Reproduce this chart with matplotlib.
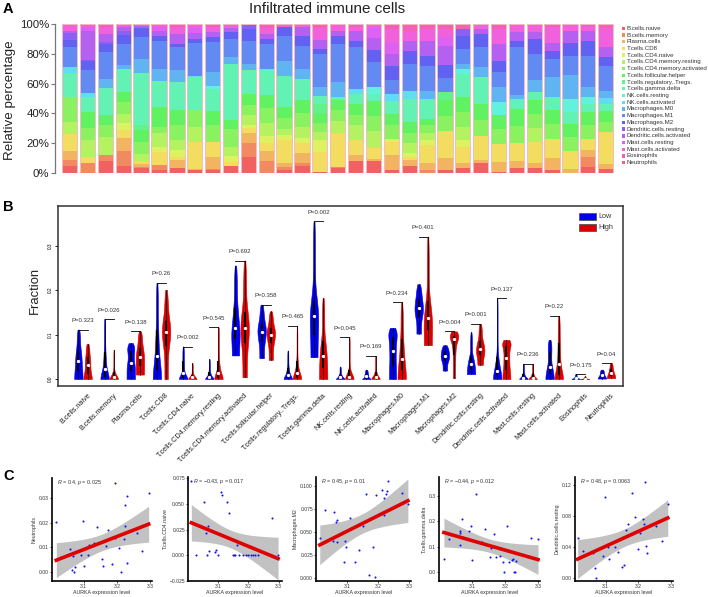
import numpy as np
import matplotlib
matplotlib.use('Agg')
import matplotlib.pyplot as plt
import matplotlib.transforms as mtransforms
from matplotlib.patches import Rectangle
import colorsys

plt.rcParams['font.family'] = ['Liberation Sans', 'DejaVu Sans']
plt.rcParams['mathtext.fontset'] = 'custom'
plt.rcParams['mathtext.it'] = 'Liberation Sans:italic'
plt.rcParams['mathtext.rm'] = 'Liberation Sans'

# ---------------- Panel A data (percent per sample) ----------------
cell_types = ['B.cells.naive', 'B.cells.memory', 'Plasma.cells', 'T.cells.CD8',
              'T.cells.CD4.naive', 'T.cells.CD4.memory.resting',
              'T.cells.CD4.memory.activated', 'T.cells.follicular.helper',
              'T.cells.regulatory..Tregs.', 'T.cells.gamma.delta',
              'NK.cells.resting', 'NK.cells.activated', 'Macrophages.M0',
              'Macrophages.M1', 'Macrophages.M2', 'Dendritic.cells.resting',
              'Dendritic.cells.activated', 'Mast.cells.resting',
              'Mast.cells.activated', 'Eosinophils', 'Neutrophils']

B_naive = [5, 0, 7.8, 5, 3.3, 2, 3.3, 1.8, 2, 4.5, 11, 0, 2, 4.5, 1, 3.3, 7.8, 7.8, 2, 5,
           0, 2.2, 3.3, 6.7, 1, 3.3, 3.3, 2.2, 0, 4, 3]
B_memory = [4, 7, 4.5, 10.5, 1, 3.3, 0, 0, 1, 0, 9, 8, 2.2, 2.2, 0, 1, 0, 0, 0, 0,
            2, 0, 0, 0, 0, 0, 0, 0, 0, 6.7, 0]
Plasma = [5.5, 0, 0, 8.5, 1.5, 0, 5.6, 1, 7.8, 0, 6.7, 6.7, 2.2, 6.7, 0, 0, 4.5, 1.5, 10, 3.8,
          4.7, 7.8, 3.3, 2.2, 6.7, 4.5, 3.3, 7.8, 3, 4.5, 3.3]
CD8 = [11.5, 4, 0, 6, 2.2, 9, 2.2, 18, 10, 3, 3.3, 5.6, 15.6, 6.7, 13.4, 22, 10, 7.4, 9, 2.2,
       12, 18, 11, 15.6, 12, 12, 14.5, 13, 12, 8, 21]
CD4_naive = [0, 0, 0, 4.5, 0, 3.3, 4.5, 0, 0, 4, 2.2, 4.5, 3.3, 3.3, 7.8, 0, 0, 0, 2.2, 2.2,
             3.3, 0, 4.5, 0, 0, 0, 0, 0, 0, 0, 0]
CD4_mem_rest = [8, 11, 12, 6.7, 5, 9, 6.7, 10, 0, 6, 6.7, 9, 4.5, 7.8, 5.6, 8, 10, 12, 0, 7,
                5, 0, 9, 0, 0, 0, 9, 0, 0, 0, 0]
CD4_mem_act = [17, 8, 8, 8, 8, 4.5, 10, 11, 11, 12, 7, 10, 7, 9, 6, 7.6, 7, 10, 9, 7,
               5, 10, 10, 11, 9.5, 11.5, 9.5, 9.5, 9, 9, 7]
Tfh = [0, 11, 7, 7, 8, 13, 10, 0, 10, 6, 7.5, 9, 7.5, 9, 6, 6.7, 7.5, 10, 7.7, 7,
       4.5, 11, 10, 11, 9.5, 11.5, 9.5, 9.5, 9, 9, 7.5]
Tregs = [0, 0, 0, 0, 3, 0, 0, 0, 0, 0, 0, 0, 0, 0, 6.7, 0, 0, 0, 0, 0,
         0, 5.6, 0, 0, 0, 0, 0, 0, 0, 0, 0]
Gamma_delta = [16, 10, 17.9, 16, 35, 18, 19, 22, 14.5, 38, 15.6, 18, 21, 14.5, 5.6, 2.2, 6.7, 4.5, 9, 15.6,
               13, 0, 15.6, 18, 0, 6.7, 5.6, 9, 8, 5.6, 4.5]
NK_rest = [0, 0, 0, 0, 0, 0, 0, 0, 2.2, 0, 0, 0, 0, 0, 0, 0, 0, 5, 0, 0,
           0, 0, 3.3, 0, 9, 0, 0, 0, 9, 4.5, 0]
NK_act = [4, 3, 0, 0, 0, 0, 0, 1, 0, 0, 0, 0, 0, 0, 0, 0, 3.3, 0, 4.5, 5.6,
          0, 0, 0, 0, 0, 0, 0, 0, 0, 0, 4.5]
M0 = [0, 0, 6.7, 3, 9, 8, 8, 0, 9, 5, 4.5, 0, 10, 6.7, 6, 10, 0, 0, 0, 0,
      5.6, 0, 3.3, 6.7, 10, 2.2, 7.8, 13, 16, 6.7, 4.5]
M1 = [13.4, 15.6, 17.9, 14.5, 15, 19, 15.6, 22, 20, 12, 15.6, 16.7, 16.7, 15.6, 22, 25, 28, 17, 9, 18,
      16.7, 9, 10, 13, 10, 32, 18, 12, 13, 21, 17]
M2 = [5, 5.6, 5.6, 6.3, 6, 3.3, 2.2, 2.2, 3.3, 4.5, 7.8, 3.3, 5.6, 6.7, 3.3, 5.6, 4.5, 7.8, 10, 9,
      6.7, 9, 9, 9, 7.8, 4.5, 10, 5.6, 9, 10, 5.6]
DC_rest = [4.5, 1, 1, 2.7, 0, 0, 0, 0, 0, 0, 3, 0, 0, 0, 0, 0, 0, 0, 0, 0,
           0, 0, 4.5, 0, 0, 0, 0, 0, 0, 0, 0]
DC_act = [1.5, 19, 5.6, 2.7, 1, 3.3, 6.7, 4.5, 3.3, 3, 0, 3.3, 0, 5.6, 6, 3.3, 6.7, 8.5, 7.8, 6.7,
          10, 13, 0, 3.3, 11, 5.6, 4.5, 5.6, 8, 6.7, 6.7]
Mast_rest = [0, 3, 0, 0, 0, 2.2, 0, 3.3, 0, 0, 0, 0, 0, 0, 0, 0, 0, 7.6, 7.8, 0,
             0, 5.6, 0, 0, 0, 0, 0, 0, 0, 0, 0]
Mast_act = [4, 1.5, 4.5, 1.3, 1, 1.8, 4.5, 1.8, 3.3, 2, 0, 4.5, 1.8, 1.8, 8.5, 4, 2.7, 1.3, 9, 6.7,
            7.8, 5.6, 0, 2.9, 10, 5, 5, 10.5, 4, 3.3, 13.4]
Eosinophils = [0, 0, 1.8, 0, 0, 0, 1.8, 0, 1.8, 0, 0, 1.8, 0, 0, 1.8, 0, 1.3, 0, 2.9, 4,
               2.9, 2.9, 2.9, 0, 2.9, 0, 0, 1.3, 0, 1, 1.8]
Neutrophils = [0.6, 0.5, 0.5, 0.6, 0.4, 0.5, 0.5, 0.6, 0.5, 0.6, 0.3, 0.6, 0.5, 0.5, 0.8, 0.5,
               0.6, 0.5, 0.6, 0.7, 0.6, 0.5, 0.6, 0.5, 0.6, 0.5, 0.5, 0.6, 0.5, 0.5, 0.6]

# ---------------- Panel B data: (min, q1, median, q3, max) ----------------
violin_names = cell_types
low_stats = [(0, 0.018, 0.040, 0.065, 0.111), (0, 0.005, 0.023, 0.060, 0.135),
             (0, 0.018, 0.036, 0.062, 0.081), (0, 0.020, 0.052, 0.110, 0.216),
             (0, 0.002, 0.013, 0.040, 0.073), (0, 0.0, 0.004, 0.015, 0.045),
             (0.053, 0.090, 0.115, 0.160, 0.255), (0.047, 0.085, 0.106, 0.125, 0.167),
             (0, 0.002, 0.010, 0.025, 0.064), (0.049, 0.100, 0.142, 0.175, 0.354),
             (0, 0.0, 0.004, 0.010, 0.028), (0, 0.0, 0.006, 0.012, 0.021),
             (0, 0.030, 0.064, 0.095, 0.115), (0.102, 0.140, 0.159, 0.180, 0.213),
             (0.019, 0.040, 0.051, 0.062, 0.076), (0.011, 0.022, 0.034, 0.050, 0.105),
             (0, 0.008, 0.019, 0.050, 0.182), (0, 0.0, 0.003, 0.012, 0.034),
             (0, 0.012, 0.028, 0.060, 0.088), (0, 0.0, 0.002, 0.005, 0.011),
             (0.001, 0.004, 0.008, 0.014, 0.021)]
high_stats = [(0, 0.012, 0.031, 0.050, 0.079), (0, 0.0, 0.004, 0.015, 0.066),
              (0.010, 0.030, 0.049, 0.070, 0.107), (0, 0.075, 0.105, 0.130, 0.200),
              (0, 0.0, 0.004, 0.010, 0.036), (0, 0.002, 0.013, 0.040, 0.116),
              (0.004, 0.080, 0.115, 0.150, 0.266), (0.043, 0.080, 0.100, 0.115, 0.152),
              (0, 0.003, 0.013, 0.040, 0.120), (0, 0.025, 0.052, 0.085, 0.182),
              (0, 0.0, 0.004, 0.020, 0.094), (0, 0.0, 0.004, 0.015, 0.052),
              (0, 0.020, 0.046, 0.090, 0.172), (0.076, 0.110, 0.137, 0.175, 0.320),
              (0.002, 0.055, 0.089, 0.097, 0.107), (0.032, 0.055, 0.068, 0.085, 0.124),
              (0, 0.020, 0.047, 0.075, 0.088), (0, 0.0, 0.003, 0.012, 0.034),
              (0, 0.010, 0.034, 0.080, 0.142), (0, 0.0, 0.001, 0.003, 0.006),
              (0.002, 0.007, 0.013, 0.022, 0.036)]
p_values = ['0.323', '0.026', '0.138', '0.26', '0.002', '0.545', '0.692', '0.358', '0.465',
            '0.002', '0.045', '0.169', '0.234', '0.401', '0.004', '0.001', '0.137', '0.236',
            '0.22', '0.175', '0.04']

# ---------------- Panel C data ----------------
c_titles = ['Neutrophils', 'T.cells.CD4.naive', 'Macrophages.M2', 'T.cells.gamma.delta',
            'Dendritic.cells.resting']
c_stats = ['$R$ = 0.4, $p$ = 0.025', '$R$ = \u22120.43, $p$ = 0.017', '$R$ = 0.45, $p$ = 0.01',
           '$R$ = \u22120.44, $p$ = 0.012', '$R$ = 0.48, $p$ = 0.0063']
neu_x = [3.018, 3.033, 3.059, 3.064, 3.067, 3.071, 3.074, 3.092, 3.098, 3.102, 3.113, 3.115, 3.131,
         3.139, 3.154, 3.159, 3.166, 3.172, 3.184, 3.194, 3.194, 3.205, 3.213, 3.221, 3.223, 3.225,
         3.231, 3.231, 3.259, 3.276, 3.295]
neu_y = [0.0205, 0.0059, 0.0091, 0.0007, 0.0064, 0.0000, 0.0018, 0.0068, 0.0209, 0.0025, 0.0068,
         0.0109, 0.0119, 0.0181, 0.0050, 0.0025, 0.0105, 0.0170, 0.0031, 0.0364, 0.0136, 0.0095,
         -0.0003, 0.0132, 0.0188, 0.0273, 0.0310, 0.0037, 0.0157, 0.0086, 0.0323]
cd4n_x = [3.011, 3.028, 3.053, 3.059, 3.064, 3.067, 3.070, 3.089, 3.092, 3.098, 3.108, 3.111, 3.128,
          3.137, 3.150, 3.153, 3.156, 3.163, 3.170, 3.183, 3.192, 3.200, 3.208, 3.214, 3.222, 3.230,
          3.278, 3.298]
cd4n_y = [0.072, 0, 0.052, 0.022, 0, 0.029, 0.0045, 0.003, 0.0055, 0, 0.0617, 0.059, 0.052, 0.041,
          0, 0, 0, 0.010, 0, 0, 0, 0, 0, 0, 0, 0, 0.036, 0]
m2_x = [3.013, 3.029, 3.055, 3.059, 3.064, 3.068, 3.067, 3.089, 3.094, 3.098, 3.109, 3.113, 3.127,
        3.138, 3.151, 3.162, 3.169, 3.182, 3.193, 3.190, 3.213, 3.220, 3.224, 3.220, 3.228, 3.230,
        3.276, 3.295]
m2_y = [0.044, 0.074, 0.040, 0.0715, 0.0605, 0.063, 0.039, 0.0176, 0.040, 0.0335, 0.0655, 0.055,
        0.0176, 0.0306, 0.057, 0.091, 0.004, 0.034, 0.090, 0.001, 0.096, 0.087, 0.091, 0.069,
        0.095, 0.105, 0.0925, 0.080]
gd_x = [3.013, 3.029, 3.061, 3.063, 3.067, 3.063, 3.090, 3.095, 3.100, 3.112, 3.129, 3.138, 3.153,
        3.158, 3.165, 3.173, 3.183, 3.193, 3.195, 3.206, 3.212, 3.222, 3.224, 3.226, 3.229, 3.234,
        3.280, 3.300]
gd_y = [0.051, 0.131, 0.107, 0.156, 0.209, 0.162, 0.163, 0.182, 0.048, 0.307, 0.119, 0.170, 0.059,
        0.097, 0.150, 0.059, 0.064, 0.041, 0.003, 0.182, 0.042, 0.048, 0.052, 0.001, 0.000, 0.046,
        0.133, 0.132]
dcr_x = [3.014, 3.030, 3.060, 3.067, 3.070, 3.093, 3.098, 3.108, 3.111, 3.129, 3.137, 3.151, 3.156,
         3.162, 3.169, 3.182, 3.191, 3.201, 3.206, 3.215, 3.218, 3.221, 3.225, 3.227, 3.256, 3.272,
         3.291]
dcr_y = [0.051, 0.035, 0.0315, 0.012, 0.0, 0.028, 0.105, 0.040, 0.024, 0.040, 0.0337, 0.014, 0.016,
         0.062, 0.070, 0.110, 0.079, 0.037, 0.058, 0.076, 0.069, 0.124, 0.041, 0.032, 0.067, 0.047,
         0.095]

# ======================================================================
W, H = 708, 597
fig = plt.figure(figsize=(W / 100, H / 100), dpi=100)


def px_axes(x0, y0, x1, y1):
    return fig.add_axes([x0 / W, 1 - y1 / H, (x1 - x0) / W, (y1 - y0) / H])


def fx(x):
    return x / W


def fy(y):
    return 1 - y / H


# ---------------- Panel A ----------------
series = [B_naive, B_memory, Plasma, CD8, CD4_naive, CD4_mem_rest, CD4_mem_act, Tfh, Tregs,
          Gamma_delta, NK_rest, NK_act, M0, M1, M2, DC_rest, DC_act, Mast_rest, Mast_act,
          Eosinophils, Neutrophils]
props = np.array(series, dtype=float)
props = props / props.sum(axis=0)
nS = props.shape[1]
colors = [colorsys.hsv_to_rgb(k / 21.0, 0.6, 0.95) for k in range(21)]

axA = px_axes(55, 24, 615, 173)
xs = np.arange(nS)
bottom = np.zeros(nS)
for k in range(21):
    axA.bar(xs, props[k], bottom=bottom, width=0.856, color=colors[k], linewidth=0)
    bottom += props[k]
axA.bar(xs, bottom, width=0.856, fill=False, edgecolor='#f2bcc4', linewidth=0.7)
axA.set_xlim(-0.82, 30.52)
axA.set_ylim(0, 1)
for s in ['top', 'right', 'bottom']:
    axA.spines[s].set_visible(False)
axA.spines['left'].set_color('#777777')
axA.spines['left'].set_linewidth(0.9)
axA.set_xticks([])
axA.set_yticks([0, 0.2, 0.4, 0.6, 0.8, 1.0])
axA.set_yticklabels(['0%', '20%', '40%', '60%', '80%', '100%'])
axA.tick_params(axis='y', length=3, width=0.8, color='#777777', labelsize=8.2,
                labelcolor='#222222', pad=1)
fig.text(fx(10), fy(100), 'Relative percentage', rotation=90, ha='center', va='center',
         fontsize=9.6, color='#222222')
fig.text(fx(327), fy(9), 'Infiltrated immune cells', ha='center', va='center', fontsize=11,
         color='#222222')
for k, name in enumerate(cell_types):
    yc = 28.3 + 6.72 * k
    fig.add_artist(Rectangle((fx(621.5), fy(yc + 1.7)), 3.4 / W, 3.4 / H, transform=fig.transFigure,
                             facecolor=colors[k], edgecolor='none'))
    fig.text(fx(626.5), fy(yc), name, ha='left', va='center', fontsize=4.4, color='#333333')

# ---------------- Panel B ----------------
axB = px_axes(58, 206, 623, 386)
axB.set_xlim(0.045, 21.63)
axB.set_ylim(-0.0157, 0.3888)
blue = '#0000ee'
red = '#dd0000'
off = 0.175


def draw_violin(ax, x, st, color, halfw=0.16):
    lo, q1, med, q3, hi = st
    ys = np.linspace(lo, hi, 241)
    dy = max(ys[1] - ys[0], 1e-9)
    dens = np.zeros_like(ys)
    for a, b in zip(st[:-1], st[1:]):
        if b - a < dy:
            idx = int(np.argmin(np.abs(ys - (a + b) / 2)))
            dens[idx] += 0.25 / dy
        else:
            m = (ys >= a) & (ys <= b)
            dens[m] += 0.25 / (b - a)
    sig = 0.1 * len(ys)
    kk = np.arange(-int(3 * sig), int(3 * sig) + 1)
    ker = np.exp(-0.5 * (kk / sig) ** 2)
    pad = len(kk) // 2
    dp = np.pad(dens, (pad, 0), mode='reflect')
    dp = np.pad(dp, (0, pad), mode='constant')
    sm = np.convolve(dp, ker, mode='valid')
    w = sm / sm.max() * halfw
    ax.fill_betweenx(ys, x - w, x + w, facecolor=color, edgecolor=color, linewidth=0.4)
    ax.plot([x, x], [lo, hi], color='black', lw=0.5)
    ax.plot([x, x], [q1, q3], color='black', lw=1.5, solid_capstyle='butt')
    ax.plot([x], [med], marker='o', ms=2.4, mfc='white', mec='none')


for i in range(len(violin_names)):
    xc = i + 1
    draw_violin(axB, xc - off, low_stats[i], blue)
    draw_violin(axB, xc + off, high_stats[i], red)
    top = max(low_stats[i][4], high_stats[i][4])
    axB.plot([xc - off, xc + off], [top, top], color='black', lw=0.6)
    axB.text(xc, top + 0.02, 'P=' + p_values[i], ha='center', va='center', fontsize=4.3,
             color='#333333')

axB.set_xticks([])
axB.set_yticks([0, 0.1, 0.2, 0.3])
axB.set_yticklabels(['0.0', '0.1', '0.2', '0.3'], rotation=90, va='center')
axB.tick_params(axis='y', length=2, width=0.6, labelsize=3.4, pad=1.5)
for s in axB.spines.values():
    s.set_color('#333333')
    s.set_linewidth(1.1)
fig.text(fx(35), fy(290), 'Fraction', rotation=90, ha='center', va='center', fontsize=9.4,
         color='#222222')
trans = mtransforms.blended_transform_factory(axB.transData, axB.transAxes)
for i, name in enumerate(violin_names):
    axB.text(i + 1 + 0.25, -0.045, name, rotation=45, ha='right', va='center',
             rotation_mode='anchor', fontsize=5.2, transform=trans, color='#222222')
# legend
for j, (lab, col) in enumerate([('Low', blue), ('High', red)]):
    yc = 216.5 + 11 * j
    fig.add_artist(Rectangle((fx(578.5), fy(yc + 3.5)), 17 / W, 7 / H, transform=fig.transFigure,
                             facecolor=col, edgecolor='#555555', linewidth=0.6))
    fig.text(fx(598.5), fy(yc), lab, ha='left', va='center', fontsize=5.2, color='#333333')

# ---------------- Panel C ----------------
c_data = [(neu_x, neu_y), (cd4n_x, cd4n_y), (m2_x, m2_y), (gd_x, gd_y), (dcr_x, dcr_y)]
c_boxes = [(52, 478, 152, 581), (188, 477, 282, 581), (316, 477, 411, 581),
           (439, 477, 540, 581), (575, 477, 673, 581)]
c_xlims = [(3.005, 3.305), (3.0, 3.311), (3.001, 3.305), (2.998, 3.306), (3.006, 3.307)]
c_ylims = [(-0.0038, 0.0383), (-0.025, 0.0763), (-0.0029, 0.1098), (-0.0342, 0.3747),
           (-0.0043, 0.1304)]
c_yticks = [[0, 0.01, 0.02, 0.03], [-0.025, 0, 0.025, 0.05, 0.075], [0, 0.025, 0.05, 0.075, 0.1],
            [0, 0.1, 0.2, 0.3], [0, 0.04, 0.08, 0.12]]
c_fmt = ['%.2f', '%.3f', '%.3f', '%.1f', '%.2f']
t_crit = 2.05

for (x, y), box, xl, yl, yt, fm, ttl, stt in zip(c_data, c_boxes, c_xlims, c_ylims, c_yticks,
                                                  c_fmt, c_titles, c_stats):
    ax = px_axes(*box)
    x = np.asarray(x)
    y = np.asarray(y)
    n = len(x)
    b, a = np.polyfit(x, y, 1)
    xg = np.linspace(x.min(), x.max(), 100)
    yg = a + b * xg
    resid = y - (a + b * x)
    s = np.sqrt(np.sum(resid ** 2) / (n - 2))
    sxx = np.sum((x - x.mean()) ** 2)
    se = s * np.sqrt(1.0 / n + (xg - x.mean()) ** 2 / sxx)
    ax.fill_between(xg, yg - t_crit * se, yg + t_crit * se, color='#c2c2c2', linewidth=0)
    ax.scatter(x, y, s=2.2, color='#1010ff', linewidths=0, zorder=3)
    ax.plot(xg, yg, color='#e00000', lw=2.6, zorder=4)
    ax.set_xlim(*xl)
    ax.set_ylim(*yl)
    ax.set_xticks([3.1, 3.2, 3.3])
    ax.set_xticklabels(['3.1', '3.2', '3.3'])
    ax.set_yticks(yt)
    ax.set_yticklabels([(fm % v).replace('-', '\u2212') for v in yt])
    ax.tick_params(labelsize=3.6, length=1.6, width=0.6, pad=0.6, colors='#333333')
    for sname in ['top', 'right']:
        ax.spines[sname].set_visible(False)
    for sname in ['left', 'bottom']:
        ax.spines[sname].set_linewidth(1.2)
        ax.spines[sname].set_color('black')
    ax.set_xlabel('AURKA expression level', fontsize=3.8, color='#333333', va='center')
    ax.xaxis.set_label_coords(0.5, -11.5 / (box[3] - box[1]))
    ax.set_ylabel(ttl, fontsize=3.8, labelpad=1.5, color='#333333')
    ax.text(0.05, 0.955, stt, transform=ax.transAxes, fontsize=3.9, ha='left', va='center',
            color='#333333')

# panel letters
fig.text(fx(8), fy(9), 'A', fontsize=10.5, fontweight='bold', ha='center', va='center')
fig.text(fx(8), fy(207), 'B', fontsize=10.5, fontweight='bold', ha='center', va='center')
fig.text(fx(9), fy(476), 'C', fontsize=10.5, fontweight='bold', ha='center', va='center')

fig.savefig('out.png', dpi=100)
